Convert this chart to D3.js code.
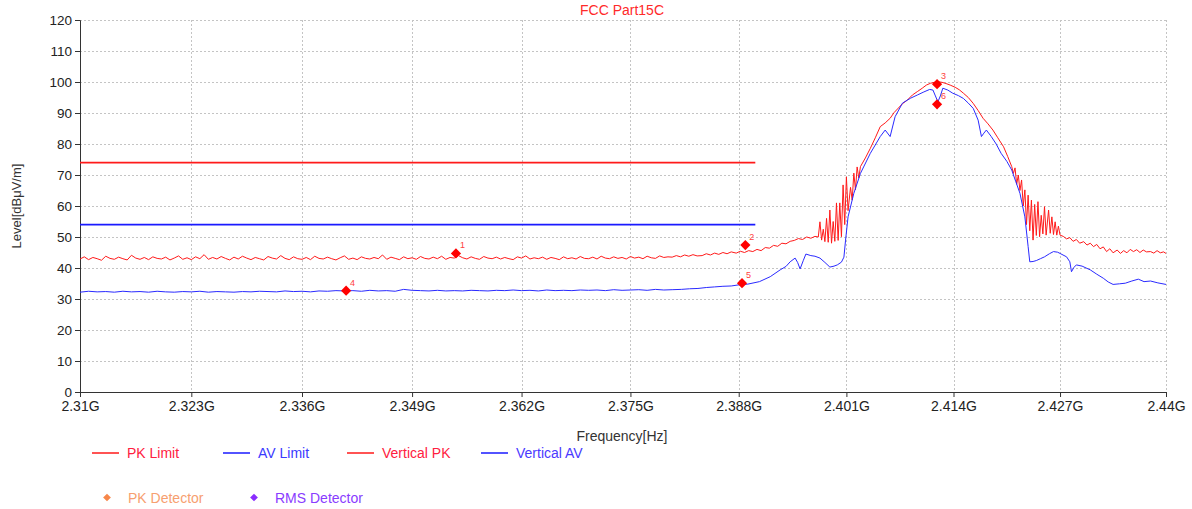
<!DOCTYPE html>
<html>
<head>
<meta charset="utf-8">
<script src="https://cdn.jsdelivr.net/npm/d3@7/dist/d3.min.js"></script>
<style>
html,body{margin:0;padding:0;background:#fff;}
svg{display:block;font-family:"Liberation Sans",Arial,sans-serif;}
</style>
</head>
<body>
<svg id="chart" width="1192" height="509"></svg>
<script>
// ---------- DATA ----------
const chartTitle = "FCC Part15C";
const xAxisTitle = "Frequency[Hz]";
const yAxisTitle = "Level[dBμV/m]";
const xTickValues = [2.31, 2.323, 2.336, 2.349, 2.362, 2.375, 2.388, 2.401, 2.414, 2.427, 2.44];
const xTickLabels = ["2.31G","2.323G","2.336G","2.349G","2.362G","2.375G","2.388G","2.401G","2.414G","2.427G","2.44G"];
const yTickValues = [0,10,20,30,40,50,60,70,80,90,100,110,120];

const pkLimit = [[2.31, 74], [2.39, 74]];
const avLimit = [[2.31, 54], [2.39, 54]];

// Vertical PK trace [GHz, dBuV/m]
const verticalPK = [
[2.3100,42.9],[2.3105,43.6],[2.3110,42.7],[2.3115,43.4],[2.3120,43.0],[2.3125,42.5],[2.3130,43.8],[2.3135,43.1],[2.3140,42.8],[2.3145,43.5],
[2.3150,43.0],[2.3155,42.6],[2.3160,44.1],[2.3165,43.2],[2.3170,42.8],[2.3175,43.4],[2.3180,42.7],[2.3185,43.6],[2.3190,43.1],[2.3195,42.9],
[2.3200,43.5],[2.3205,42.6],[2.3210,43.2],[2.3215,43.9],[2.3220,42.8],[2.3225,43.3],[2.3230,42.7],[2.3235,43.6],[2.3240,43.0],[2.3245,44.3],
[2.3250,42.8],[2.3255,43.4],[2.3260,42.9],[2.3265,43.7],[2.3270,43.1],[2.3275,42.6],[2.3280,43.5],[2.3285,42.9],[2.3290,43.8],[2.3295,43.2],
[2.3300,42.7],[2.3305,43.4],[2.3310,43.0],[2.3315,42.6],[2.3320,43.7],[2.3325,43.2],[2.3330,42.9],[2.3335,44.0],[2.3340,43.1],[2.3345,42.7],
[2.3350,43.6],[2.3355,43.0],[2.3360,42.8],[2.3365,43.4],[2.3370,42.7],[2.3375,43.8],[2.3380,43.1],[2.3385,42.9],[2.3390,43.5],[2.3395,43.0],
[2.3400,42.6],[2.3405,43.3],[2.3410,43.9],[2.3415,42.8],[2.3420,43.2],[2.3425,42.7],[2.3430,43.6],[2.3435,43.1],[2.3440,42.9],[2.3445,43.4],
[2.3450,43.0],[2.3455,44.2],[2.3460,42.8],[2.3465,43.5],[2.3470,43.1],[2.3475,42.7],[2.3480,43.6],[2.3485,43.0],[2.3490,43.3],[2.3495,42.8],
[2.3500,43.7],[2.3505,43.1],[2.3510,42.9],[2.3515,43.5],[2.3520,43.0],[2.3525,43.8],[2.3530,42.8],[2.3535,43.4],[2.3540,43.2],[2.3545,44.0],
[2.3550,43.3],[2.3555,42.9],[2.3560,43.6],[2.3565,43.1],[2.3570,42.8],[2.3575,43.7],[2.3580,43.2],[2.3585,43.0],[2.3590,43.5],[2.3595,42.9],
[2.3600,43.4],[2.3605,43.0],[2.3610,42.7],[2.3615,43.6],[2.3620,43.2],[2.3625,43.9],[2.3630,42.9],[2.3635,43.3],[2.3640,43.0],[2.3645,43.5],
[2.3650,42.8],[2.3655,43.4],[2.3660,43.1],[2.3665,42.7],[2.3670,43.6],[2.3675,43.0],[2.3680,43.3],[2.3685,42.9],[2.3690,43.7],[2.3695,43.1],
[2.3700,43.0],[2.3705,43.5],[2.3710,42.9],[2.3715,43.8],[2.3720,43.2],[2.3725,43.0],[2.3730,43.6],[2.3735,43.1],[2.3740,43.4],[2.3745,42.9],
[2.3750,43.7],[2.3755,43.2],[2.3760,43.5],[2.3765,43.0],[2.3770,43.8],[2.3775,43.3],[2.3780,43.1],[2.3785,43.9],[2.3790,43.4],[2.3795,43.6],
[2.3800,43.5],[2.3805,44.0],[2.3810,43.6],[2.3815,44.2],[2.3820,43.8],[2.3825,44.3],[2.3830,43.9],
[2.3836,44.0],[2.3841,44.6],[2.3846,44.2],[2.3851,44.8],[2.3856,44.4],[2.3861,45.0],[2.3866,44.6],[2.3871,45.2],[2.3877,44.8],[2.3882,45.4],
[2.3887,45.0],[2.3892,45.6],[2.3897,45.3],[2.3902,46.0],[2.3907,45.6],[2.3912,46.6],[2.3917,46.4],[2.3922,47.3],[2.3927,47.0],[2.3932,48.0],
[2.3937,47.8],[2.3942,48.6],[2.3947,48.9],[2.3952,49.5],[2.3957,49.2],[2.3962,50.0],[2.3967,49.6],[2.3972,50.2],
[2.3976,50.0],[2.3978,54.9],[2.3980,49.0],[2.3982,52.5],[2.3984,48.5],[2.3986,56.0],[2.3988,48.3],[2.3990,58.7],[2.3992,48.0],[2.3994,55.0],
[2.3996,48.6],[2.3998,61.0],[2.4000,48.9],[2.4002,61.0],[2.4004,50.1],[2.4006,66.8],[2.4008,54.0],[2.4010,69.4],[2.4012,58.5],[2.4015,66.0],
[2.4017,61.9],[2.4019,70.6],[2.4021,65.2],[2.4023,72.6],[2.4025,69.0],[2.4027,72.7],
[2.4033,75.5],[2.4039,78.6],[2.4045,82.0],[2.4051,85.6],[2.4057,86.8],[2.4063,88.3],[2.4068,90.2],[2.4073,91.6],[2.4078,93.0],[2.4084,94.2],
[2.4090,95.8],[2.4096,96.9],[2.4102,98.0],[2.4107,99.0],[2.4112,99.6],[2.4117,99.9],[2.4121,100.1],[2.4126,99.9],[2.4131,99.5],[2.4136,99.0],
[2.4142,98.3],[2.4147,97.5],[2.4152,96.4],[2.4158,95.0],[2.4164,93.1],[2.4170,90.8],[2.4176,88.3],[2.4182,86.5],[2.4188,84.5],[2.4194,82.0],
[2.4201,79.1],[2.4206,76.0],[2.4211,72.7],
[2.4213,70.5],[2.4215,72.3],[2.4217,67.0],[2.4219,70.0],[2.4221,65.0],[2.4223,68.4],[2.4225,60.0],[2.4227,65.2],[2.4229,54.0],[2.4231,63.5],
[2.4233,52.0],[2.4235,61.9],[2.4237,49.0],[2.4239,60.5],[2.4241,50.5],[2.4243,61.4],[2.4245,50.1],[2.4247,57.0],[2.4249,51.0],[2.4251,59.8],
[2.4253,50.6],[2.4256,58.7],[2.4258,51.2],[2.4260,56.5],[2.4262,50.8],[2.4264,54.9],[2.4266,50.6],[2.4268,53.5],[2.4270,50.6],
[2.4274,50.2],[2.4278,49.4],[2.4282,49.8],[2.4286,48.6],[2.4290,49.2],[2.4294,48.0],[2.4299,48.5],[2.4303,47.4],[2.4307,48.0],[2.4311,46.9],
[2.4315,47.6],[2.4319,46.2],[2.4323,46.8],[2.4327,45.3],[2.4331,46.2],[2.4335,44.9],[2.4340,45.8],[2.4344,44.7],[2.4348,45.6],[2.4352,44.9],
[2.4356,46.0],[2.4360,45.3],[2.4364,45.9],[2.4368,45.0],[2.4372,45.8],[2.4376,45.2],[2.4381,45.3],[2.4385,44.8],[2.4389,45.6],[2.4393,44.9],
[2.4397,45.2],[2.4400,44.7]
];

// Vertical AV trace [GHz, dBuV/m]
const verticalAV = [
[2.310,32.2],[2.311,32.5],[2.312,32.3],[2.313,32.4],[2.314,32.2],[2.315,32.5],[2.316,32.3],[2.317,32.4],[2.318,32.2],[2.319,32.5],
[2.320,32.3],[2.321,32.2],[2.322,32.4],[2.323,32.3],[2.324,32.5],[2.325,32.2],[2.326,32.4],[2.327,32.3],[2.328,32.2],[2.329,32.4],
[2.330,32.3],[2.331,32.5],[2.332,32.4],[2.333,32.3],[2.334,32.6],[2.335,32.4],[2.336,32.5],[2.337,32.3],[2.338,32.6],[2.339,32.5],
[2.340,32.7],[2.341,32.6],[2.342,32.7],[2.343,32.5],[2.344,32.8],[2.345,32.6],[2.346,32.7],[2.347,32.5],[2.348,33.1],[2.349,32.8],
[2.350,32.7],[2.351,32.6],[2.352,32.8],[2.353,32.6],[2.354,32.7],[2.355,32.6],[2.356,32.8],[2.357,32.7],[2.358,32.6],[2.359,32.8],
[2.360,32.7],[2.361,32.9],[2.362,32.7],[2.363,32.8],[2.364,32.6],[2.365,32.9],[2.366,32.7],[2.367,32.8],[2.368,32.7],[2.369,32.9],
[2.370,32.8],[2.371,32.9],[2.372,32.7],[2.373,33.0],[2.374,32.8],[2.375,32.9],[2.376,33.0],[2.377,32.8],[2.378,33.1],[2.379,32.9],
[2.380,33.0],[2.3811,33.1],[2.3821,33.3],[2.3831,33.4],[2.3841,33.7],[2.3851,33.9],[2.3861,34.1],[2.3871,34.2],[2.3881,34.6],[2.3891,34.8],
[2.3905,35.6],[2.3918,37.2],[2.3930,39.4],[2.3937,40.5],[2.3942,42.0],[2.3948,43.2],[2.3951,41.8],[2.3954,39.7],[2.3958,42.5],[2.3961,44.5],
[2.3967,44.0],[2.3972,43.8],[2.3978,43.2],[2.3984,41.8],[2.3990,40.3],[2.3995,40.6],[2.3999,41.0],[2.4004,41.9],[2.4007,43.5],[2.4009,49.0],
[2.4012,56.5],[2.4019,64.1],[2.4027,70.5],[2.4039,77.0],[2.4051,82.4],[2.4057,84.5],[2.4063,82.4],[2.4069,88.8],[2.4078,93.2],[2.4088,94.8],
[2.4096,95.8],[2.4104,96.8],[2.4111,97.6],[2.4115,97.4],[2.4118,95.5],[2.4121,93.6],[2.4124,95.5],[2.4127,98.0],[2.4133,97.4],[2.4139,96.4],
[2.4146,95.6],[2.4152,94.7],[2.4158,93.2],[2.4164,91.5],[2.4170,87.7],[2.4174,82.4],[2.4177,83.5],[2.4180,84.5],[2.4186,82.4],[2.4192,80.0],
[2.4198,77.0],[2.4205,74.4],[2.4211,71.6],[2.4216,67.8],[2.4221,64.1],[2.4227,56.5],[2.4231,46.9],[2.4233,42.0],[2.4237,42.1],[2.4241,42.4],
[2.4246,43.0],[2.4251,43.6],[2.4257,44.6],[2.4262,45.3],[2.4267,45.1],[2.4270,44.7],[2.4278,43.6],[2.4282,42.0],[2.4284,38.8],[2.4287,40.2],
[2.4290,41.0],[2.4297,40.6],[2.4307,39.4],[2.4315,38.0],[2.4323,36.7],[2.4329,35.5],[2.4335,34.7],[2.4343,34.9],[2.4350,35.1],[2.4358,35.8],
[2.4366,36.4],[2.4373,35.6],[2.4381,35.8],[2.4390,35.2],[2.4400,34.7]
];

const markerFreq  = [2.3542, 2.3888, 2.4120, 2.3412, 2.3884, 2.4120];
const markerLevel = [44.7, 47.4, 99.3, 32.7, 35.1, 92.8];
const markerLabel = ["1", "2", "3", "4", "5", "6"];

const legendRow1 = ["PK Limit", "AV Limit", "Vertical PK", "Vertical AV"];
const legendRow2 = ["PK Detector", "RMS Detector"];

// ---------- DRAW ----------
const svg = d3.select("#chart");
const mLeft = 80, mRight = 1166, mTop = 20, mBottom = 392;

// the frequency axis of the reference is logarithmic
const x = d3.scaleLog().domain([2.31, 2.44]).range([mLeft, mRight]);
const y = d3.scaleLinear().domain([0, 120]).range([mBottom, mTop]);

// grid
const grid = svg.append("g");
grid.selectAll("line.h").data(yTickValues.filter(v => v > 0)).enter().append("line")
  .attr("x1", mLeft).attr("x2", mRight).attr("y1", d => y(d)).attr("y2", d => y(d))
  .attr("stroke", "#c4c4c4").attr("stroke-dasharray", "2,2").attr("stroke-width", 1)
  .attr("shape-rendering", "crispEdges");
grid.selectAll("line.v").data(xTickValues.slice(1)).enter().append("line")
  .attr("x1", d => Math.round(x(d)) + 0.5).attr("x2", d => Math.round(x(d)) + 0.5)
  .attr("y1", mTop).attr("y2", mBottom)
  .attr("stroke", "#c4c4c4").attr("stroke-dasharray", "2,2").attr("stroke-width", 1);

// axes
const xAxis = d3.axisBottom(x).tickValues(xTickValues)
  .tickFormat((d, i) => xTickLabels[i]).tickSizeOuter(0).tickSize(5).tickPadding(4);
const gx = svg.append("g").attr("transform", `translate(0,${mBottom})`).call(xAxis);
const yAxis = d3.axisLeft(y).tickValues(yTickValues).tickSizeOuter(0).tickSize(5).tickPadding(3);
const gy = svg.append("g").attr("transform", `translate(${mLeft},0)`).call(yAxis);
[gx, gy].forEach(g => {
  g.selectAll("path.domain").attr("stroke", "#333");
  g.selectAll(".tick line").attr("stroke", "#333");
  g.selectAll(".tick text").attr("fill", "#222")
    .style("font-family", '"Liberation Sans", Arial, sans-serif');
});
gx.selectAll(".tick text").style("font-size", "14px");
gy.selectAll(".tick text").style("font-size", "13.5px");

// titles
svg.append("text").attr("x", 622).attr("y", 15).attr("text-anchor", "middle")
  .attr("fill", "#ff2a2a").style("font-size", "14px").text(chartTitle);
svg.append("text").attr("x", 622).attr("y", 441).attr("text-anchor", "middle")
  .attr("fill", "#333").style("font-size", "14px").text(xAxisTitle);
svg.append("text").attr("transform", "translate(21,206) rotate(-90)").attr("text-anchor", "middle")
  .attr("fill", "#333").style("font-size", "13px").text(yAxisTitle);

// lines
const line = d3.line().x(d => x(d[0])).y(d => y(d[1]));
svg.append("path").datum(pkLimit).attr("d", line).attr("fill", "none")
  .attr("stroke", "#ff1a1a").attr("stroke-width", 1.6);
svg.append("path").datum(avLimit).attr("d", line).attr("fill", "none")
  .attr("stroke", "#1a1aff").attr("stroke-width", 1.6);
svg.append("path").datum(verticalPK).attr("d", line).attr("fill", "none")
  .attr("stroke", "#ff1a1a").attr("stroke-width", 1);
svg.append("path").datum(verticalAV).attr("d", line).attr("fill", "none")
  .attr("stroke", "#2a2aff").attr("stroke-width", 1);

// markers
const diamond = d3.symbol().type(d3.symbolSquare).size(52);
const mk = svg.append("g");
markerFreq.forEach((f, i) => {
  mk.append("path").attr("d", diamond())
    .attr("transform", `translate(${x(f)},${y(markerLevel[i])}) rotate(45)`)
    .attr("fill", "#ff0000");
  mk.append("text").attr("x", x(f) + 4).attr("y", y(markerLevel[i]) - 5)
    .attr("fill", "#ff4040").style("font-size", "9px").text(markerLabel[i]);
});

// legend
const row1Colors = ["#ff1a1a", "#1a1aff", "#ff1a1a", "#1a1aff"];
const row1Text = ["#ff2040", "#3a3aff", "#ff2040", "#4a3aff"];
const row1X = [92, 223, 347, 481];
legendRow1.forEach((t, i) => {
  svg.append("line").attr("x1", row1X[i]).attr("x2", row1X[i] + 27)
    .attr("y1", 453).attr("y2", 453).attr("stroke", row1Colors[i]).attr("stroke-width", 1.5);
  svg.append("text").attr("x", row1X[i] + 35).attr("y", 458)
    .attr("fill", row1Text[i]).style("font-size", "14px").text(t);
});
const row2Colors = ["#f7874a", "#8a2cff"];
const row2Text = ["#f7a070", "#8a3cff"];
const row2X = [107, 254];
const legDiamond = d3.symbol().type(d3.symbolSquare).size(30);
legendRow2.forEach((t, i) => {
  svg.append("path").attr("d", legDiamond())
    .attr("transform", `translate(${row2X[i]},497.5) rotate(45)`).attr("fill", row2Colors[i]);
  svg.append("text").attr("x", row2X[i] + 21).attr("y", 502.5)
    .attr("fill", row2Text[i]).style("font-size", "14px").text(t);
});
</script>
</body>
</html>
